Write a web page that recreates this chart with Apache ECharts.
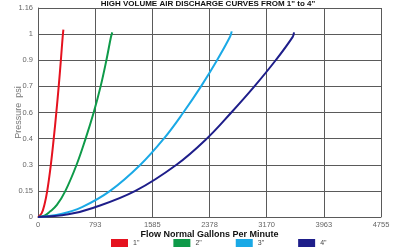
<!DOCTYPE html>
<html>
<head>
<meta charset="utf-8">
<script src="https://cdn.jsdelivr.net/npm/echarts@6/dist/echarts.min.js"></script>
<style>html,body{margin:0;padding:0;background:#fff}#c{width:400px;height:248px}</style>
</head>
<body>
<div id="c"></div>
<script>
const titleText = 'HIGH VOLUME AIR DISCHARGE CURVES FROM 1" to 4"';
const xName = 'Flow Normal Gallons Per Minute';
const yName = 'Pressure  psi';
const xTickLabels = ['0', '793', '1585', '2378', '3170', '3963', '4755'];
const yTickLabels = ['0', '0.15', '0.3', '0.4', '0.6', '0.7', '0.9', '1', '1.16'];
const seriesNames = ['1"', '2"', '3"', '4"'];
const seriesColors = ['#e5121f', '#0e9a49', '#1aa9e6', '#1e1e8a'];
const curve1 = [[0,0],[50,0.02],[90,0.07],[128,0.145],[178,0.29],[218,0.435],[254,0.58],[287,0.725],[317,0.87],[342,1.0],[352,1.04]];
const curve2 = [[0,0],[90,0.008],[166,0.03],[262,0.067],[380,0.145],[535,0.29],[660,0.435],[772,0.58],[868,0.725],[948,0.87],[1012,1.0],[1030,1.025]];
const curve3 = [[0,0],[320,0.017],[610,0.055],[1000,0.145],[1420,0.29],[1745,0.435],[2015,0.58],[2260,0.725],[2482,0.87],[2662,1.0],[2685,1.03]];
const curve4 = [[0,0],[420,0.015],[760,0.05],[1350,0.145],[1920,0.29],[2340,0.435],[2680,0.58],[3000,0.725],[3295,0.87],[3531,1.0],[3549,1.025]];
const curves = [curve1, curve2, curve3, curve4];

const chart = echarts.init(document.getElementById('c'), null, {renderer: 'canvas'});
const gridColor = '#5a5a5a';
chart.setOption({
  animation: false,
  title: {text: titleText, left: 208, top: 0, textAlign: 'center', padding: 0,
    textStyle: {fontFamily: 'Liberation Sans', fontSize: 8, fontWeight: 'bold', color: '#111'}},
  grid: {left: 38, right: 19, top: 8, bottom: 31, outerBoundsMode: 'none', containLabel: false},
  xAxis: {
    type: 'value', min: 0, max: 4755, interval: 792.5,
    name: xName, nameLocation: 'middle', nameGap: 13, nameMoveOverlap: false,
    nameTextStyle: {fontFamily: 'Liberation Sans', fontSize: 9, fontWeight: 'bold', color: '#111'},
    axisLine: {show: true, lineStyle: {color: gridColor, width: 1}},
    axisTick: {show: false},
    splitLine: {show: true, lineStyle: {color: gridColor, width: 1}},
    axisLabel: {fontFamily: 'Liberation Sans', fontSize: 7.5, color: '#666', margin: 4,
      formatter: v => xTickLabels[Math.round(v / 792.5)] || ''}
  },
  yAxis: {
    type: 'value', min: 0, max: 1.16, interval: 0.145,
    name: yName, nameLocation: 'middle', nameGap: 15, nameMoveOverlap: false,
    nameTextStyle: {fontFamily: 'Liberation Sans', fontSize: 9, color: '#777'},
    axisLine: {show: true, lineStyle: {color: gridColor, width: 1}},
    axisTick: {show: false},
    splitLine: {show: true, lineStyle: {color: gridColor, width: 1}},
    axisLabel: {fontFamily: 'Liberation Sans', fontSize: 7.5, color: '#666', margin: 5,
      formatter: v => yTickLabels[Math.round(v / 0.145)] || ''}
  },
  legend: {
    bottom: 1, left: 111, padding: 0, icon: 'rect', itemWidth: 17, itemHeight: 8, itemGap: 34,
    textStyle: {fontFamily: 'Liberation Sans', fontSize: 7, color: '#444'},
    data: seriesNames
  },
  series: curves.map((d, i) => ({
    name: seriesNames[i], type: 'line', data: d, smooth: 0.4, showSymbol: false,
    lineStyle: {color: seriesColors[i], width: 2}, itemStyle: {color: seriesColors[i]}
  }))
});
</script>
</body>
</html>
